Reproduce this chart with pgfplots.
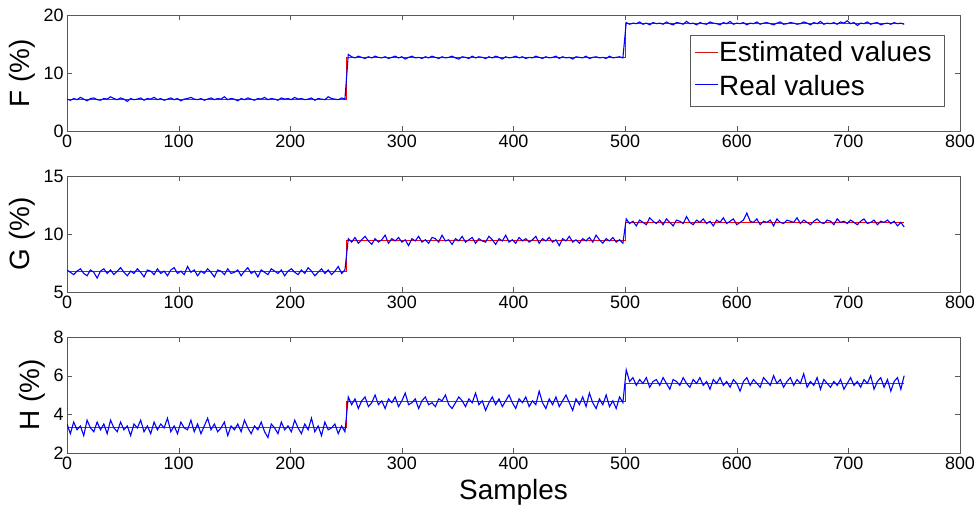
\documentclass[border=0pt]{standalone}
\usepackage{fontspec}
\setmainfont{Liberation Sans}
\usepackage{pgfplots}
\usepackage{pgfplotstable}
\pgfplotsset{compat=1.18}

% Real values, one sample every 3 (x = 3*index)
\pgfplotstableread[row sep=\\]{
y\\
5.5\\5.3\\5.6\\5.4\\5.8\\5.5\\5.2\\5.6\\5.7\\5.4\\
5.3\\5.6\\5.5\\5.9\\5.6\\5.4\\5.7\\5.5\\5.1\\5.6\\
5.4\\5.5\\5.7\\5.3\\5.6\\5.5\\5.8\\5.4\\5.6\\5.3\\
5.5\\5.7\\5.4\\5.6\\5.2\\5.5\\5.6\\5.8\\5.5\\5.4\\
5.6\\5.3\\5.5\\5.7\\5.4\\5.6\\5.5\\5.9\\5.4\\5.6\\
5.5\\5.2\\5.6\\5.4\\5.7\\5.5\\5.3\\5.6\\5.5\\5.8\\
5.4\\5.6\\5.5\\5.3\\5.7\\5.5\\5.6\\5.4\\5.8\\5.5\\
5.6\\5.4\\5.5\\5.7\\5.3\\5.6\\5.5\\5.4\\5.9\\5.6\\
5.5\\5.4\\5.7\\5.5\\
13.2\\12.8\\12.6\\12.9\\12.7\\12.5\\12.8\\12.6\\12.9\\12.7\\
12.6\\12.8\\12.5\\12.7\\12.9\\12.6\\12.8\\12.4\\12.7\\12.9\\
12.6\\12.7\\12.5\\12.8\\12.6\\12.9\\12.7\\12.5\\12.8\\12.6\\
12.7\\12.9\\12.6\\12.4\\12.8\\12.7\\12.5\\12.9\\12.6\\12.8\\
12.7\\12.5\\12.8\\12.6\\12.9\\12.7\\12.4\\12.8\\12.6\\12.7\\
12.9\\12.6\\12.8\\12.5\\12.7\\12.6\\12.9\\12.7\\12.5\\12.8\\
12.6\\12.7\\12.9\\12.5\\12.8\\12.6\\12.7\\12.4\\12.8\\12.7\\
12.6\\12.9\\12.5\\12.7\\12.8\\12.6\\12.7\\12.5\\12.9\\12.6\\
12.7\\12.8\\12.6\\
18.7\\18.4\\18.6\\18.5\\18.8\\18.4\\18.6\\18.3\\18.7\\18.5\\
18.6\\18.4\\18.8\\18.5\\18.3\\18.7\\18.6\\18.4\\18.9\\18.5\\
18.6\\18.3\\18.7\\18.5\\18.4\\18.8\\18.6\\18.5\\18.3\\18.7\\
18.5\\18.9\\18.4\\18.6\\18.5\\18.7\\18.3\\18.6\\18.5\\18.8\\
18.4\\18.6\\18.7\\18.5\\18.3\\18.6\\18.8\\18.4\\18.5\\18.7\\
18.6\\18.4\\18.5\\18.8\\18.6\\18.3\\18.7\\18.5\\18.9\\18.4\\
18.6\\18.5\\18.7\\18.4\\18.8\\18.6\\19.0\\18.5\\18.7\\18.2\\
18.6\\18.5\\18.8\\18.4\\18.6\\18.7\\18.3\\18.5\\18.6\\18.4\\
18.7\\18.5\\18.6\\18.4\\
}\dataF

\pgfplotstableread[row sep=\\]{
y\\
6.9\\6.7\\6.5\\6.8\\7.0\\6.6\\6.4\\6.9\\6.7\\6.2\\
6.8\\7.0\\6.6\\6.9\\6.5\\6.8\\7.1\\6.7\\6.4\\6.8\\
6.6\\7.0\\6.7\\6.3\\6.9\\6.8\\6.5\\7.0\\6.6\\6.8\\
6.4\\6.9\\7.1\\6.6\\6.8\\6.5\\7.2\\6.7\\6.9\\6.4\\
6.8\\6.6\\7.0\\6.7\\6.3\\6.9\\6.8\\6.5\\7.0\\6.6\\
6.7\\6.9\\6.4\\6.8\\7.1\\6.6\\6.8\\6.3\\6.9\\6.7\\
6.5\\7.0\\6.8\\6.6\\6.9\\6.4\\6.8\\7.0\\6.7\\6.5\\
6.9\\6.6\\7.1\\6.8\\6.4\\6.7\\7.0\\6.6\\6.9\\6.5\\
6.8\\7.2\\6.6\\6.9\\
9.6\\9.3\\9.7\\9.2\\9.5\\9.8\\9.4\\9.1\\9.6\\9.3\\
9.5\\9.9\\9.2\\9.6\\9.4\\9.7\\9.3\\9.5\\9.0\\9.6\\
9.4\\9.8\\9.3\\9.5\\9.2\\9.7\\9.6\\9.3\\9.9\\9.4\\
9.5\\9.1\\9.6\\9.4\\9.8\\9.3\\9.5\\9.7\\9.2\\9.6\\
9.4\\9.3\\9.8\\9.5\\9.1\\9.6\\9.4\\9.9\\9.3\\9.5\\
9.2\\9.7\\9.4\\9.6\\9.3\\9.5\\9.8\\9.2\\9.6\\9.4\\
9.7\\9.3\\9.5\\9.0\\9.6\\9.4\\9.8\\9.3\\9.5\\9.2\\
9.6\\9.4\\9.7\\9.3\\9.9\\9.5\\9.2\\9.6\\9.4\\9.7\\
9.3\\9.5\\9.2\\
11.3\\10.9\\11.1\\10.7\\11.2\\11.0\\10.8\\11.4\\11.1\\10.9\\
11.2\\10.8\\11.3\\11.0\\10.7\\11.2\\11.1\\10.9\\11.5\\11.0\\
10.8\\11.2\\11.0\\11.3\\10.9\\11.1\\10.7\\11.2\\11.0\\11.4\\
10.9\\11.1\\11.3\\10.8\\11.0\\11.2\\11.8\\11.1\\11.0\\11.3\\
10.8\\11.1\\11.0\\11.2\\10.7\\11.3\\11.0\\10.9\\11.2\\11.1\\
11.0\\11.4\\10.9\\11.2\\11.0\\10.8\\11.1\\11.3\\11.0\\10.9\\
11.2\\11.1\\10.8\\11.3\\11.0\\11.1\\10.9\\11.2\\11.0\\10.8\\
11.1\\11.3\\10.9\\11.0\\11.2\\10.8\\11.1\\11.0\\11.2\\10.9\\
11.1\\10.7\\11.0\\10.6\\
}\dataG

\pgfplotstableread[row sep=\\]{
y\\
3.5\\3.0\\3.6\\3.2\\3.4\\2.9\\3.7\\3.3\\3.1\\3.6\\
3.2\\3.5\\3.0\\3.7\\3.3\\3.1\\3.6\\3.2\\3.4\\2.9\\
3.5\\3.3\\3.7\\3.1\\3.4\\3.0\\3.6\\3.2\\3.5\\3.3\\
3.8\\3.1\\3.4\\3.0\\3.6\\3.3\\3.2\\3.7\\3.1\\3.5\\
3.0\\3.4\\3.8\\3.2\\3.5\\3.1\\3.3\\3.6\\2.9\\3.4\\
3.2\\3.5\\3.1\\3.7\\3.3\\3.0\\3.4\\3.2\\3.6\\3.1\\
2.8\\3.5\\3.3\\3.0\\3.6\\3.2\\3.4\\3.1\\3.7\\3.3\\
3.0\\3.5\\3.2\\3.8\\3.1\\3.4\\2.9\\3.6\\3.2\\3.3\\
3.5\\3.0\\3.4\\3.1\\
4.9\\4.5\\4.8\\4.3\\4.7\\4.9\\4.4\\4.6\\5.0\\4.5\\
4.7\\4.3\\4.8\\4.6\\4.9\\4.4\\4.7\\5.1\\4.5\\4.6\\
4.8\\4.3\\4.7\\4.9\\4.5\\4.6\\4.4\\4.8\\4.7\\5.0\\
4.5\\4.3\\4.6\\4.9\\4.7\\4.4\\4.8\\4.6\\5.1\\4.5\\
4.7\\4.2\\4.6\\4.9\\4.5\\4.8\\4.4\\4.7\\5.0\\4.6\\
4.3\\4.8\\4.6\\4.9\\4.4\\4.7\\4.5\\5.2\\4.6\\4.3\\
4.8\\4.5\\4.9\\4.4\\4.7\\5.0\\4.6\\4.2\\4.8\\4.5\\
4.9\\4.4\\5.1\\4.6\\4.3\\4.8\\4.5\\5.0\\4.4\\4.7\\
4.3\\4.9\\4.6\\
6.3\\5.7\\5.9\\5.5\\5.8\\5.6\\5.9\\5.4\\5.7\\5.8\\
5.5\\5.9\\5.6\\5.3\\5.8\\5.7\\5.5\\5.9\\5.6\\5.4\\
5.8\\5.6\\5.9\\5.5\\5.7\\5.3\\5.8\\5.6\\5.9\\5.5\\
5.7\\5.4\\5.8\\5.6\\5.2\\5.7\\5.9\\5.5\\5.8\\5.6\\
5.4\\5.9\\5.7\\5.5\\6.0\\5.6\\5.8\\5.4\\5.7\\5.9\\
5.5\\5.8\\5.6\\6.1\\5.4\\5.7\\5.5\\5.9\\5.3\\5.8\\
5.6\\5.4\\5.7\\5.5\\5.8\\5.3\\5.6\\5.9\\5.5\\5.7\\
5.4\\5.8\\5.6\\6.0\\5.3\\5.7\\5.9\\5.4\\5.8\\5.2\\
5.7\\5.9\\5.3\\6.0\\
}\dataH

\pgfplotsset{
  panel/.style={
    scale only axis, width=893bp, height=116bp, anchor=south west,
    xmin=0, xmax=800, xtick={0,100,...,800},
    tick align=inside, tick pos=both,
    axis line style={black!65}, major tick length=5bp,
    tick style={black!65},
    tick label style={font=\fontsize{18}{20}\selectfont},
    label style={font=\fontsize{28}{30}\selectfont},
    /pgf/number format/assume math mode=true,
    ylabel style={yshift=1bp},
  },
  realv/.style={color=blue, line width=1.1pt},
  estv/.style={color=red, line width=1pt},
}

\begin{document}
\begin{tikzpicture}
\path[use as bounding box] (0,0) rectangle (979bp,506bp);

\begin{axis}[panel, at={(67bp,375bp)}, ymin=0, ymax=20, ytick={0,10,20},
  ylabel={F (\%)}]
\addplot[estv]
  coordinates {(0,5.5) (250,5.5) (250,12.7) (500,12.7) (500,18.5) (750,18.5)};
\addplot[realv]
  table[x expr=\coordindex*3, y index=0] {\dataF};
% legend
\draw[black!65, fill=white, line width=0.6pt]
  (rel axis cs:0.6977,0.2155) rectangle (rel axis cs:0.982,0.828);
\draw[red!80!black!90, line width=0.9pt] (rel axis cs:0.7032,0.681) -- (rel axis cs:0.729,0.681);
\draw[blue, line width=0.9pt] (rel axis cs:0.7032,0.397) -- (rel axis cs:0.729,0.397);
\node[anchor=base west, inner sep=0pt, font=\fontsize{28}{30}\selectfont]
  at (rel axis cs:0.7301,0.595) {Estimated values};
\node[anchor=base west, inner sep=0pt, font=\fontsize{28}{30}\selectfont]
  at (rel axis cs:0.7301,0.310) {Real values};
\end{axis}

\begin{axis}[panel, at={(67bp,214bp)}, ymin=5, ymax=15, ytick={5,10,15},
  ylabel={G (\%)}]
\addplot[estv] coordinates {(0,6.75) (250,6.75) (250,9.4) (500,9.4) (500,11.0) (750,11.0)};
\addplot[realv] table[x expr=\coordindex*3, y index=0] {\dataG};
\end{axis}

\begin{axis}[panel, at={(67bp,53bp)}, ymin=2, ymax=8, ytick={2,4,6,8},
  ylabel={H (\%)}, xlabel={Samples}, xlabel style={yshift=-3bp}]
\addplot[estv] coordinates {(0,3.3) (250,3.3) (250,4.65) (500,4.65) (500,5.6) (750,5.6)};
\addplot[realv] table[x expr=\coordindex*3, y index=0] {\dataH};
\end{axis}
\end{tikzpicture}
\end{document}
